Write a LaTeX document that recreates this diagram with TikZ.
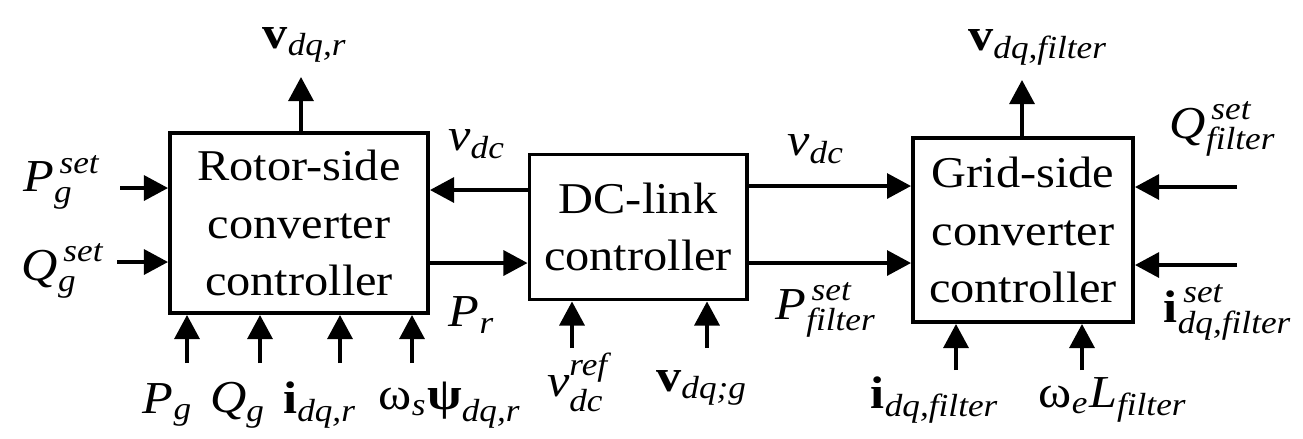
\documentclass[tikz,border=0pt]{standalone}
\usepackage{amsmath}
\usepackage{fontspec}
\setmainfont{Liberation Serif}[FakeStretch=1.1]
\usetikzlibrary{arrows.meta}
\newcommand{\ita}[1]{\textit{#1}}
\newcommand{\bv}[1]{\textbf{#1}}
\tikzset{
  blk/.style={draw, line width=1.1pt, inner sep=0pt, align=center, font=\fontsize{12.5}{16.4}\selectfont},
  sig/.style={line width=0.9pt, -{Triangle[length=0.24cm,width=0.25cm]}},
  lbl/.style={inner sep=0pt, font=\fontsize{13}{15}\selectfont}
}
\begin{document}
\begin{tikzpicture}[x=0.01cm,y=-0.01cm]
\useasboundingbox (0,0) rectangle (1303,438);
\node[blk, minimum width=2.58cm, minimum height=1.80cm] (rsc) at (299,223) {Rotor-side\\converter\\controller};
\node[blk, minimum width=2.17cm, minimum height=1.45cm] (dcl) at (638,227) {DC-link\\controller};
\node[blk, minimum width=2.20cm, minimum height=1.84cm] (gsc) at (1023,230) {Grid-side\\converter\\controller};
\coordinate (vrout) at (301,77);
\coordinate (pgin) at (120,188);
\coordinate (qgin) at (117,262);
\draw[sig] (rsc.north -| vrout) -- (vrout);
\draw[sig] (pgin) -- (pgin -| rsc.west);
\draw[sig] (qgin) -- (qgin -| rsc.west);
\foreach \x/\n in {187/a,260/b,340/c,412/d}{
  \coordinate (rin\n) at (\x,363);
  \draw[sig] (rin\n) -- (rin\n |- rsc.south);
}
\draw[sig] (dcl.west |- 0,190) -- (rsc.east |- 0,190);
\draw[sig] (rsc.east |- 0,263) -- (dcl.west |- 0,263);
\foreach \x/\n in {572/a,707/b}{
  \coordinate (din\n) at (\x,348);
  \draw[sig] (din\n) -- (din\n |- dcl.south);
}
\draw[sig] (dcl.east |- 0,186) -- (gsc.west |- 0,186);
\draw[sig] (dcl.east |- 0,263) -- (gsc.west |- 0,263);
\coordinate (vfout) at (1022,80);
\coordinate (qfin) at (1237,187);
\coordinate (ifin) at (1237,265);
\draw[sig] (gsc.north -| vfout) -- (vfout);
\draw[sig] (qfin) -- (qfin -| gsc.east);
\draw[sig] (ifin) -- (ifin -| gsc.east);
\foreach \x/\n in {956/a,1082/b}{
  \coordinate (gin\n) at (\x,370);
  \draw[sig] (gin\n) -- (gin\n |- gsc.south);
}
\node[lbl] (lvr) at (305,45) {$\bv{v}_{\ita{dq,r}}$};
\node[lbl] (lpg) at (62,182) {$\ita{P}^{\,\ita{set}}_{\ita{g}}$};
\node[lbl] (lqg) at (63,271) {$\ita{Q}^{\,\ita{set}}_{\ita{g}}$};
\node[lbl] (lpgm) at (168,405) {$\ita{P}_{\ita{g}}$};
\node[lbl] (lqgm) at (238,405) {$\ita{Q}_{\ita{g}}$};
\node[lbl] (lir) at (320,405) {$\bv{i}_{\ita{dq,r}}$};
\node[lbl] (lpsi) at (450,405) {$\text{ω}_{\ita{s}}\bv{ψ}_{\ita{dq,r}}$};
\node[lbl] (lvdcl) at (477,144) {$\ita{v}_{\ita{dc}}$};
\node[lbl] (lpr) at (472,315) {$\ita{P}_{\ita{r}}$};
\node[lbl] (lvref) at (578,382) {$\ita{v}^{\ita{ref}}_{\ita{dc}}$};
\node[lbl] (lvg) at (702,388) {$\bv{v}_{\ita{dq;g}}$};
\node[lbl] (lvdcr) at (816,149) {$\ita{v}_{\ita{dc}}$};
\node[lbl] (lpf) at (826,310) {$\ita{P}^{\,\ita{set}}_{\ita{filter}}$};
\node[lbl] (lvf) at (1038,47) {$\bv{v}_{\ita{dq,filter}}$};
\node[lbl] (lqf) at (1223,129) {$\ita{Q}^{\,\ita{set}}_{\ita{filter}}$};
\node[lbl] (lifs) at (1228,312) {$\bv{i}^{\,\ita{set}}_{\ita{dq,filter}}$};
\node[lbl] (lif) at (935,400) {$\bv{i}_{\ita{dq,filter}}$};
\node[lbl] (lwl) at (1113,400) {$\text{ω}_{\ita{e}}\ita{L}_{\ita{filter}}$};
\end{tikzpicture}
\end{document}
